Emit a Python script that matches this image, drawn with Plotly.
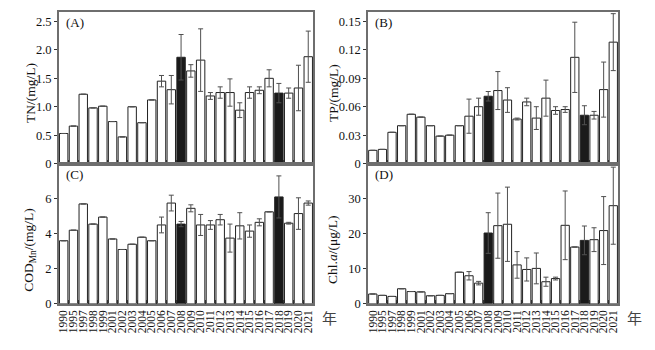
import plotly.graph_objects as go

years = ["1990", "1995", "1997", "1998", "1999", "2001", "2002", "2003", "2004", "2005",
         "2006", "2007", "2008", "2009", "2010", "2011", "2012", "2013", "2014", "2015",
         "2016", "2017", "2018", "2019", "2020", "2021"]

tn = [0.53, 0.66, 1.22, 0.98, 1.01, 0.74, 0.47, 1.00, 0.72, 1.12,
      1.45, 1.30, 1.87, 1.63, 1.82, 1.19, 1.25, 1.25, 0.94, 1.25,
      1.29, 1.50, 1.24, 1.24, 1.33, 1.88]
tn_err = [None] * 10 + [0.10, 0.25, 0.40, 0.11, 0.55, 0.06, 0.10, 0.24, 0.13, 0.10,
                        0.06, 0.15, 0.17, 0.09, 0.40, 0.45]

tp = [0.014, 0.015, 0.033, 0.040, 0.052, 0.049, 0.040, 0.029, 0.030, 0.040,
      0.050, 0.060, 0.071, 0.077, 0.067, 0.047, 0.065, 0.048, 0.069, 0.056,
      0.057, 0.112, 0.051, 0.051, 0.078, 0.128]
tp_err = [None] * 10 + [0.018, 0.009, 0.005, 0.020, 0.013, 0.001, 0.004, 0.012, 0.019, 0.004,
                        0.003, 0.037, 0.010, 0.004, 0.029, 0.030]

cod = [3.6, 4.2, 5.7, 4.55, 4.95, 3.7, 3.1, 3.4, 3.8, 3.6,
       4.5, 5.75, 4.55, 5.45, 4.5, 4.5, 4.8, 3.75, 4.45, 4.15,
       4.65, 5.25, 6.1, 4.6, 5.15, 5.75]
cod_err = [None] * 10 + [0.45, 0.45, 0.15, 0.2, 0.6, 0.25, 0.3, 0.8, 0.75, 0.35,
                         0.2, None, 1.2, 0.05, 0.9, 0.12]

chla = [2.8, 2.4, 2.1, 4.3, 3.5, 3.4, 2.3, 2.4, 2.9, 9.0,
        8.0, 5.9, 20.2, 22.3, 22.7, 11.1, 9.8, 10.1, 6.3, 7.2,
        22.4, 16.2, 18.1, 18.3, 20.9, 28.0]
chla_err = [None] * 10 + [1.2, 0.5, 5.8, 9.3, 10.6, 3.8, 3.3, 4.4, 1.3, 0.4,
                          9.8, None, 4.1, 3.4, 9.7, 11.0]

highlight = ["2008", "2018"]

FONT = "Liberation Serif, Times New Roman, serif"
AX = "#6e6e6e"

panels = [
    ("x", "y", tn, tn_err, "(A)", "TN/(mg/L)", [0, 2.67], [0, 0.5, 1.0, 1.5, 2.0, 2.5], ["0", "0.5", "1.0", "1.5", "2.0", "2.5"]),
    ("x2", "y2", tp, tp_err, "(B)", "TP/(mg/L)", [0, 0.160], [0, 0.03, 0.06, 0.09, 0.12, 0.15], ["0", "0.03", "0.06", "0.09", "0.12", "0.15"]),
    ("x3", "y3", cod, cod_err, "(C)", "COD<sub>Mn</sub>/(mg/L)", [0, 8.0], [0, 2, 4, 6], ["0", "2", "4", "6"]),
    ("x4", "y4", chla, chla_err, "(D)", "Chl.<i>a</i>/(μg/L)", [0, 40], [0, 10, 20, 30], ["0", "10", "20", "30"]),
]

xdom = [[0.0885, 0.478], [0.562, 0.945]]
ydom = [[0.5229, 0.9657], [0.1143, 0.5229]]
# title centre positions (paper fractions)
title_x = [29 / 655, 333 / 655]
title_y = [1 - 95 / 350, 1 - 255 / 350]

fig = go.Figure()
layout = {}
for i, (xa, ya, vals, errs, lab, title, yr, tv, tt) in enumerate(panels):
    col = i % 2
    row = i // 2
    colors = ["#1a1a1a" if y in highlight else "white" for y in years]
    fig.add_trace(go.Bar(
        x=years, y=vals, xaxis=xa, yaxis=ya,
        marker=dict(color=colors, line=dict(color="#222", width=1)),
        error_y=dict(type="data", array=[e if e is not None else 0 for e in errs],
                     visible=True, color="#505050", thickness=1, width=2.5),
        showlegend=False,
    ))
    xkey = "xaxis" if i == 0 else f"xaxis{i+1}"
    ykey = "yaxis" if i == 0 else f"yaxis{i+1}"
    layout[xkey] = dict(
        domain=xdom[col], anchor=ya, type="category",
        categoryorder="array", categoryarray=years,
        tickmode="array", tickvals=years, ticktext=years,
        showline=True, linecolor=AX, linewidth=1.5, mirror=True,
        ticks="inside", ticklen=4, tickcolor="#333", tickson="boundaries",
        showticklabels=(row == 1), tickangle=-90,
        tickfont=dict(family=FONT, size=11.5, color="#111"),
        showgrid=False, zeroline=False,
    )
    layout[ykey] = dict(
        domain=ydom[row], anchor=xa, range=yr,
        tickvals=tv, ticktext=tt,
        showline=True, linecolor=AX, linewidth=1.5, mirror=True,
        ticks="outside", ticklen=3, tickcolor="#333",
        tickfont=dict(family=FONT, size=12.5, color="#111"),
        showgrid=False, zeroline=False,
    )
    fig.add_annotation(
        text=title, xref="paper", yref="paper",
        x=title_x[col], y=title_y[row], textangle=-90,
        xanchor="center", yanchor="middle", showarrow=False,
        font=dict(family=FONT, size=13.5, color="#111"),
    )
    fig.add_annotation(
        text=lab, xref="paper", yref="paper",
        x=xdom[col][0] + 0.008, y=ydom[row][1] - 0.004,
        xanchor="left", yanchor="top", showarrow=False,
        font=dict(family=FONT, size=13, color="#111"),
    )
    if row == 1:
        fig.add_annotation(
            text="年", xref="paper", yref="paper",
            x=xdom[col][1] + 0.01, y=ydom[row][0] - 0.003,
            xanchor="left", yanchor="top", showarrow=False,
            font=dict(family="Noto Sans CJK SC", size=15, color="#444"),
        )

fig.update_layout(
    width=655, height=350,
    margin=dict(l=0, r=0, t=0, b=0),
    paper_bgcolor="white", plot_bgcolor="white",
    bargap=0.14,
    **layout,
)

fig.write_html("out.html")
